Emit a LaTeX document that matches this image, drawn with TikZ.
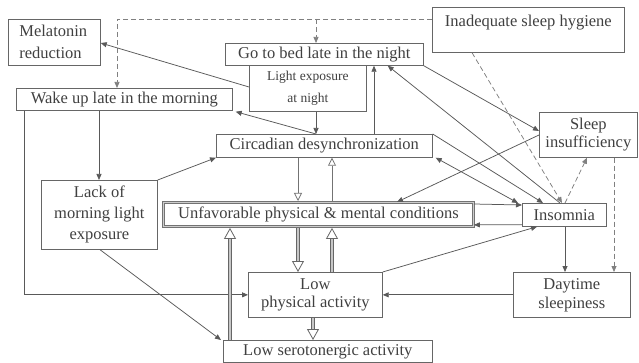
\documentclass[tikz,border=0pt]{standalone}
\usepackage{fontspec}
\setmainfont{Liberation Serif}
\usetikzlibrary{arrows.meta,calc}
\begin{document}
\begin{tikzpicture}[x=1pt,y=-1pt,
  box/.style={draw=black!60, line width=0.7pt, inner sep=0pt, anchor=north west, align=center,
    text=black!75, font=\fontsize{16.5}{19}\selectfont},
  conn/.style={draw=black!65, line width=0.75pt, -{Triangle[length=6pt,width=5pt]}},
  dconn/.style={conn, draw=black!50, dash pattern=on 5pt off 3pt},
  openconn/.style={draw=black!55, line width=0.75pt, -{Triangle[open,length=8pt,width=8pt]}},
  thickarr/.style={draw=black!60, line width=0.8pt, double=black!22, double distance=2.4pt,
    -{Triangle[open,length=11pt,width=12pt]}}
]
\useasboundingbox (0,0) rectangle (639,363);
\fill[white] (0,0) rectangle (639,363);

% boxes
\node[box, minimum width=92pt, minimum height=46pt, text width=70pt, align=left, inner xsep=11pt,
  font=\fontsize{16.5}{22}\selectfont] (mel) at (8,19) {Melatonin\\reduction};
\node[box, minimum width=192pt, inner ysep=4pt, text height=15pt, text depth=22pt] (ish) at (432,7) {Inadequate sleep hygiene};
\node[box, minimum width=198pt, minimum height=22pt] (gtb) at (225,43) {Go to bed late in the night};
\node[box, minimum width=117pt, minimum height=46pt, font=\fontsize{13.5}{22}\selectfont] (lex) at (249,65) {Light exposure\\at night};
\node[box, minimum width=216pt, minimum height=22pt] (wul) at (16,88) {Wake up late in the morning};
\node[box, minimum width=216pt, minimum height=23pt] (cd) at (216,134) {Circadian desynchronization};
\node[box, minimum width=98pt, minimum height=45pt, font=\fontsize{16.5}{18}\selectfont] (si) at (539,112) {Sleep\\insufficiency};
\node[box, minimum width=116pt, minimum height=69pt, font=\fontsize{16.5}{21}\selectfont] (lack) at (41,180) {Lack of\\morning light\\exposure};
\node[box, minimum width=310pt, minimum height=24pt, draw=black!55, line width=0.9pt, double=black!20, double distance=1.2pt] (unf) at (163,202) {Unfavorable physical \& mental conditions};
\node[box, minimum width=84pt, minimum height=23pt] (ins) at (522,203) {Insomnia};
\node[box, minimum width=134pt, minimum height=45pt, font=\fontsize{16.5}{18}\selectfont] (lpa) at (248,272) {Low\\physical activity};
\node[box, minimum width=209pt, minimum height=22pt] (lsa) at (223,340) {Low serotonergic activity};
\node[box, minimum width=117pt, minimum height=45pt, font=\fontsize{16.5}{19}\selectfont] (ds) at (513,272) {Daytime\\sleepiness};

% dashed connectors
\draw[dconn] ($(ish.north west)+(0,12)$) -| ($(wul.north west)+(101,0)$);
\draw[dconn] ($(gtb.north west)+(91,-24)$) -- ($(gtb.north west)+(91,0)$);
\draw[dconn] ($(ish.south west)+(40,0)$) -- ($(ins.north west)+(40,0)$);
\draw[dconn] ($(ins.north west)+(43,0)$) -- ($(si.south west)+(48,0)$);
\draw[dconn] ($(si.south west)+(75,0)$) -- ($(ds.north west)+(101,0)$);

% thin connectors
\draw[conn] ($(lex.north west)+(0,22)$) -- ($(mel.north east)+(0,24)$);
\draw[conn] ($(cd.north west)+(100,0)$) -- ($(wul.south east)+(3,1)$);
\draw[conn] ($(lex.south west)+(67,0)$) -- ($(cd.north west)+(100,0)$);
\draw[conn] ($(cd.north west)+(158,0)$) -- ($(gtb.south west)+(149,0)$);
\draw[conn] ($(ins.north west)+(38,0)$) -- ($(gtb.south east)+(-36,0)$);
\draw[conn] (gtb.south east) -- ($(si.north west)+(0,19)$);
\draw[conn] ($(si.north west)+(0,23)$) -- ($(unf.north west)+(234,0)$);
\draw[conn] (cd.north east) -- ($(ins.north west)+(21,0)$);
\draw[conn, {Triangle[length=6pt,width=5pt]}-{Triangle[length=6pt,width=5pt]}] ($(cd.south east)+(3,0)$) -- ($(ins.north west)+(-4,0)$);
\draw[conn] ($(unf.north east)+(0,2)$) -- ($(ins.north west)+(0,2)$);
\draw[conn] ($(ins.south west)+(0,-2)$) -- ($(unf.south east)+(0,-2)$);
\draw[conn] ($(ins.south west)+(43,0)$) -- ($(ds.north west)+(52,0)$);
\draw[conn] (ds.west) -- (lpa.east);
\draw[conn] (lpa.north east) -- ($(ins.south west)+(15,0)$);
\draw[conn] ($(wul.south west)+(8,0)$) |- (lpa.west);
\draw[conn] ($(wul.south west)+(83,0)$) -- ($(lack.north west)+(58,0)$);
\draw[conn] (lack.north east) -- (cd.south west);
\draw[conn] ($(lack.south west)+(59,0)$) -- ($(lsa.north west)+(-2,0)$);

% open-head thin connectors
\draw[openconn] ($(cd.south west)+(82,0)$) -- ($(unf.north west)+(135,-1)$);
\draw[openconn] ($(unf.north west)+(169,-1)$) -- ($(cd.south west)+(116,0)$);

% thick hollow arrows
\draw[thickarr] ($(lsa.north west)+(7,0)$) -- ($(unf.south west)+(67,1)$);
\draw[thickarr] ($(unf.south west)+(135,1)$) -- ($(lpa.north west)+(50,0)$);
\draw[thickarr] ($(lpa.north west)+(84,0)$) -- ($(unf.south west)+(169,1)$);
\draw[thickarr] ($(lpa.south west)+(65,0)$) -- ($(lsa.north west)+(90,0)$);
\end{tikzpicture}
\end{document}
